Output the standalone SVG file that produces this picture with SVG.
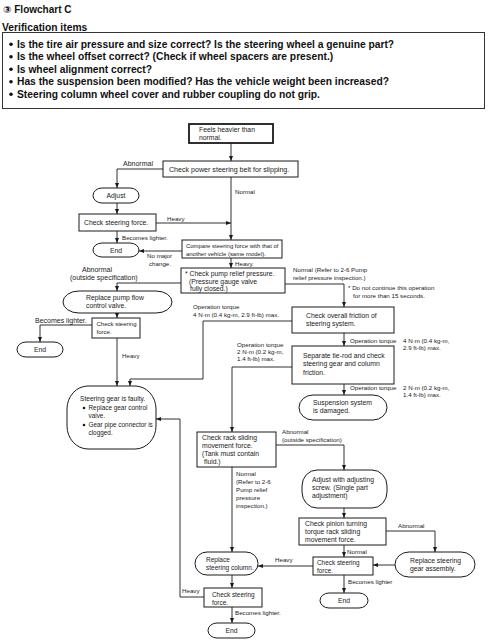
<svg xmlns="http://www.w3.org/2000/svg" width="488" height="640" viewBox="0 0 488 640">
<style>
.bx{fill:#fff;stroke:#1a1a1a;stroke-width:1}
.ln{fill:none;stroke:#1a1a1a;stroke-width:0.9}
.ar{marker-end:url(#a)}
.t{font-family:"Liberation Sans",Arial,sans-serif;font-size:6.8px;fill:#1a1a1a}
.s{font-family:"Liberation Sans",Arial,sans-serif;font-size:6.2px;fill:#1a1a1a}
.m{font-size:7px}
.h{font-family:"Liberation Sans",Arial,"DejaVu Sans",sans-serif;font-weight:bold;fill:#111}
.c{text-anchor:middle}
</style>
<defs>
<marker id="a" markerWidth="5" markerHeight="4" refX="5" refY="2" orient="auto" markerUnits="userSpaceOnUse"><path d="M0,0 L5,2 L0,4 z" fill="#1a1a1a"/></marker>
</defs>
<rect width="488" height="640" fill="#fff"/>

<g id="header">
<text class="h" x="3" y="12.5" font-size="10">③ Flowchart C</text>
<text class="h" x="2" y="30.5" font-size="10.3">Verification items</text>
<rect x="2.5" y="32.5" width="482" height="76" fill="none" stroke="#333" stroke-width="1"/>
<circle cx="11" cy="44.2" r="1.8" fill="#111"/>
<circle cx="11" cy="56.7" r="1.8" fill="#111"/>
<circle cx="11" cy="69.2" r="1.8" fill="#111"/>
<circle cx="11" cy="81.7" r="1.8" fill="#111"/>
<circle cx="11" cy="94.2" r="1.8" fill="#111"/>
<text class="h" x="17" y="47.5" font-size="10.25">Is the tire air pressure and size correct? Is the steering wheel a genuine part?</text>
<text class="h" x="17" y="60" font-size="10.25">Is the wheel offset correct? (Check if wheel spacers are present.)</text>
<text class="h" x="17" y="72.5" font-size="10.25">Is wheel alignment correct?</text>
<text class="h" x="17" y="85" font-size="10.25">Has the suspension been modified? Has the vehicle weight been increased?</text>
<text class="h" x="17" y="97.5" font-size="10.25">Steering column wheel cover and rubber coupling do not grip.</text>
</g>

<g id="connectors">
<path class="ln ar" d="M231,143 V161"/>
<path class="ln ar" d="M163,169 H117 V188"/>
<text class="s m" x="123" y="166">Abnormal</text>
<path class="ln ar" d="M117,203 V214"/>
<path class="ln ar" d="M156,223 H231"/>
<text class="s" x="167" y="221">Heavy</text>
<path class="ln ar" d="M231,177 V240"/>
<text class="s" x="235" y="194">Normal</text>
<path class="ln ar" d="M117,231 V243"/>
<text class="s" x="122" y="240">Becomes lighter.</text>
<path class="ln ar" d="M182,251 H139"/>
<text class="s" x="147" y="258">No major</text>
<text class="s" x="149" y="266">change.</text>
<path class="ln ar" d="M231,258 V268"/>
<text class="s" x="235" y="266">Heavy.</text>
<path class="ln ar" d="M181,283 H117 V291"/>
<text class="s m" x="82" y="272">Abnormal</text>
<text class="s m" x="70" y="279.5">(outside specification)</text>
<path class="ln ar" d="M117,313 V318"/>
<path class="ln ar" d="M92,325 H40 V342"/>
<text class="s m" x="35" y="323">Becomes lighter.</text>
<path class="ln ar" d="M117,338 V386"/>
<text class="s" x="122" y="358">Heavy</text>
<path class="ln ar" d="M292,321 H203 V379 H130 V386"/>
<text class="s" x="193" y="309">Operation torque</text>
<text class="s" x="193" y="316.5">4 N·m (0.4 kg-m, 2.9 ft-lb) max.</text>
<path class="ln ar" d="M285,284 H344 V307"/>
<text class="s" x="293" y="272">Normal (Refer to 2-6 Pump</text>
<text class="s" x="293" y="279.5">relief pressure inspection.)</text>
<text class="s" x="348" y="290">* Do not continue this operation</text>
<text class="s" x="353" y="298">for more than 15 seconds.</text>
<path class="ln ar" d="M344,333 V346"/>
<text class="s" x="350" y="343">Operation torque</text>
<text class="s" x="403" y="343">4 N·m (0.4 kg-m,</text>
<text class="s" x="403" y="350">2.9 ft-lb) max.</text>
<path class="ln ar" d="M344,384 V395"/>
<text class="s" x="350" y="390">Operation torque</text>
<text class="s" x="403" y="390">2 N·m (0.2 kg-m,</text>
<text class="s" x="403" y="397">1.4 ft-lb) max.</text>
<path class="ln ar" d="M292,367 H232 V432"/>
<text class="s" x="237" y="347">Operation torque</text>
<text class="s" x="237" y="354">2 N·m (0.2 kg-m,</text>
<text class="s" x="237" y="361">1.4 ft-lb) max.</text>
<path class="ln ar" d="M276,445 H344 V470"/>
<text class="s" x="282" y="434">Abnormal</text>
<text class="s" x="282" y="441.5">(outside specification)</text>
<path class="ln ar" d="M232,467 V552"/>
<text class="s" x="236" y="476">Normal</text>
<text class="s" x="236" y="484">(Refer to 2-6</text>
<text class="s" x="236" y="492">Pump relief</text>
<text class="s" x="236" y="500">pressure</text>
<text class="s" x="236" y="508">inspection.)</text>
<path class="ln ar" d="M232,575 V588"/>
<path class="ln ar" d="M204,597 H180 V419 H156"/>
<text class="s" x="182" y="593">Heavy</text>
<path class="ln ar" d="M232,607 V623"/>
<text class="s" x="235" y="615">Becomes lighter.</text>
<path class="ln ar" d="M344,508 V518"/>
<path class="ln ar" d="M386,531 H435 V552"/>
<text class="s" x="398" y="528">Abnormal</text>
<path class="ln ar" d="M344,545 V557"/>
<text class="s" x="347" y="554">Normal</text>
<path class="ln ar" d="M395,565 H373"/>
<path class="ln ar" d="M313,566 H258"/>
<text class="s" x="275" y="562">Heavy</text>
<path class="ln ar" d="M344,575 V593"/>
<text class="s" x="348" y="584">Becomes lighter</text>
</g>

<g id="n1"><rect class="bx" x="189" y="124" width="84" height="19" style="stroke-width:1.8"/>
<text class="t" x="199" y="131.5">Feels heavier than</text><text class="t" x="199" y="139.5">normal.</text></g>
<g id="n2"><rect class="bx" x="163" y="161" width="135" height="16"/>
<text class="t" x="169" y="171.5" style="font-size:7.1px">Check power steering belt for slipping.</text></g>
<g id="n3"><rect class="bx" x="93" y="188" width="46" height="15" rx="9" ry="7.5"/>
<text class="t c" x="116" y="198">Adjust</text></g>
<g id="n4"><rect class="bx" x="79" y="214" width="77" height="17"/>
<text class="t" x="84" y="225">Check steering force.</text></g>
<g id="n5"><rect class="bx" x="93" y="243" width="46" height="14" rx="9" ry="7"/>
<text class="t c" x="116" y="252.5">End</text></g>
<g id="n6"><rect class="bx" x="182" y="240" width="100" height="18"/>
<text class="t" x="186" y="247.5" style="font-size:5.95px">Compare steering force with that of</text>
<text class="t" x="186" y="255.5" style="font-size:5.95px">another vehicle (same model).</text></g>
<g id="n7"><rect class="bx" x="181" y="268" width="104" height="25"/>
<text class="t" x="185" y="275.5">* Check pump relief pressure.</text>
<text class="t" x="189" y="283.5">(Pressure gauge valve</text>
<text class="t" x="190" y="291">fully closed.)</text></g>
<g id="n8"><rect class="bx" x="63" y="291" width="109" height="22" rx="16" ry="11"/>
<text class="t" x="86" y="299.5">Replace pump flow</text><text class="t" x="86" y="307.5">control valve.</text></g>
<g id="n9"><rect class="bx" x="92" y="318" width="48" height="20"/>
<text class="t" x="96.5" y="325.5" style="font-size:6px">Check steering</text><text class="t" x="96.5" y="333.5" style="font-size:6px">force.</text></g>
<g id="n10"><rect class="bx" x="17" y="342" width="46" height="15" rx="9" ry="7.5"/>
<text class="t c" x="40" y="352">End</text></g>
<g id="n11"><rect class="bx" x="67" y="386" width="89" height="63" rx="21" ry="23"/>
<text class="t" x="80" y="401" style="font-size:6.6px">Steering gear is faulty.</text>
<circle cx="84" cy="408" r="1.3" fill="#1a1a1a"/>
<text class="t" x="88.5" y="410" style="font-size:6.4px">Replace gear control</text>
<text class="t" x="88.5" y="418" style="font-size:6.4px">valve.</text>
<circle cx="84" cy="425" r="1.3" fill="#1a1a1a"/>
<text class="t" x="88.5" y="427" style="font-size:6.4px">Gear pipe connector is</text>
<text class="t" x="88.5" y="435" style="font-size:6.4px">clogged.</text></g>
<g id="n12"><rect class="bx" x="292" y="307" width="102" height="26"/>
<text class="t" x="306" y="318">Check overall friction of</text><text class="t" x="306" y="326">steering system.</text></g>
<g id="n13"><rect class="bx" x="292" y="346" width="102" height="38"/>
<text class="t" x="303" y="358">Separate tie-rod and check</text>
<text class="t" x="303" y="366">steering gear and column</text>
<text class="t" x="303" y="374.5">friction.</text></g>
<g id="n14"><rect class="bx" x="299" y="395" width="88" height="25" rx="14" ry="12.5"/>
<text class="t" x="313" y="404.5">Suspension system</text><text class="t" x="313" y="412.5">is damaged.</text></g>
<g id="n15"><rect class="bx" x="197" y="432" width="79" height="35"/>
<text class="t" x="202" y="439.5">Check rack sliding</text>
<text class="t" x="202" y="447.5">movement force.</text>
<text class="t" x="202" y="455.5">(Tank must contain</text>
<text class="t" x="204" y="463.5">fluid.)</text></g>
<g id="n16"><rect class="bx" x="302" y="470" width="85" height="38" rx="15" ry="16"/>
<text class="t" x="312" y="481.5">Adjust with adjusting</text>
<text class="t" x="312" y="489.5">screw. (Single part</text>
<text class="t" x="312" y="497.5">adjustment)</text></g>
<g id="n17"><rect class="bx" x="299" y="518" width="87" height="27"/>
<text class="t" x="305" y="526">Check pinion turning</text>
<text class="t" x="305" y="534">torque rack sliding</text>
<text class="t" x="305" y="542">movement force.</text></g>
<g id="n18"><rect class="bx" x="395" y="552" width="80" height="25" rx="14" ry="12.5"/>
<text class="t" x="410" y="562.5">Replace steering</text><text class="t" x="410" y="570.5">gear assembly.</text></g>
<g id="n19"><rect class="bx" x="313" y="557" width="60" height="18"/>
<text class="t" x="317" y="564.5" style="font-size:6.4px">Check steering</text><text class="t" x="317" y="572.5" style="font-size:6.4px">force.</text></g>
<g id="n20"><rect class="bx" x="320" y="593" width="48" height="15" rx="9" ry="7.5"/>
<text class="t c" x="344" y="603">End</text></g>
<g id="n21"><rect class="bx" x="195" y="552" width="63" height="23" rx="12" ry="11.5"/>
<text class="t" x="206" y="562" style="font-size:6.5px">Replace</text><text class="t" x="206" y="570" style="font-size:6.5px">steering column.</text></g>
<g id="n22"><rect class="bx" x="204" y="588" width="58" height="19"/>
<text class="t" x="212" y="597" style="font-size:6.4px">Check steering</text><text class="t" x="212" y="604.5" style="font-size:6.4px">force.</text></g>
<g id="n23"><rect class="bx" x="208" y="623" width="47" height="15" rx="9" ry="7.5"/>
<text class="t c" x="231.5" y="633">End</text></g>
</svg>
